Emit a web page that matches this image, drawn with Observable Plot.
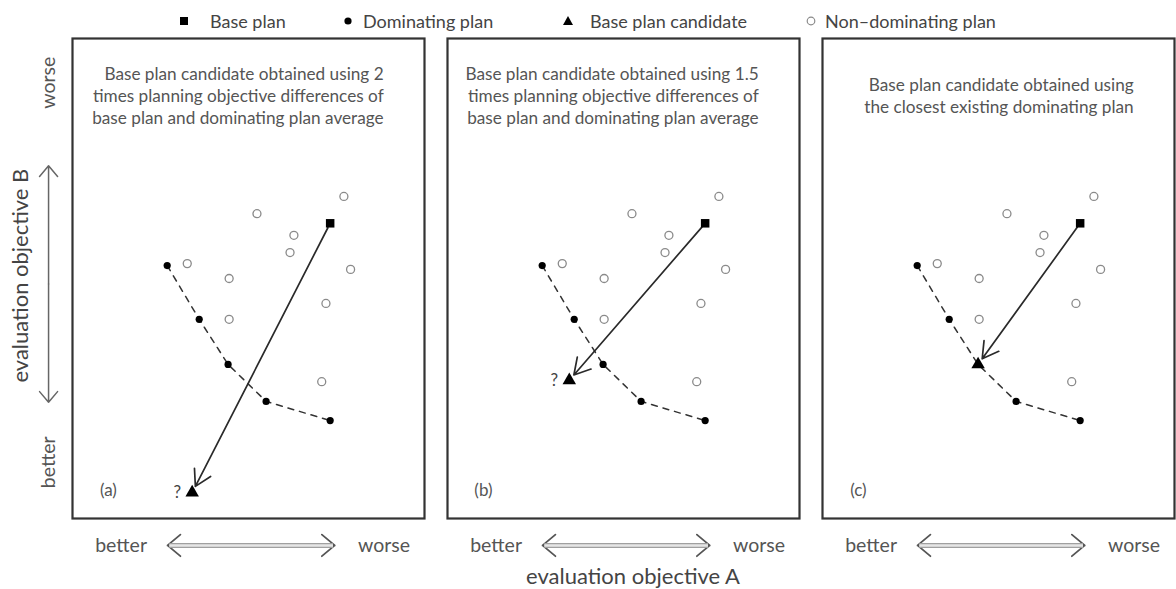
<!DOCTYPE html>
<html><head><meta charset="utf-8">
<script src="https://cdn.jsdelivr.net/npm/d3@7"></script>
<script src="https://cdn.jsdelivr.net/npm/@observablehq/plot@0.6"></script>
<style>
body{margin:0;background:#fff;font-family:Lato,"Open Sans",sans-serif;}
#legend{position:relative;height:30px;width:1176px;color:#444;font-size:18px;}
#legend .sym{position:absolute;top:11px;width:20px;height:20px;margin-left:-10px;}
#legend .lab{position:absolute;top:10px;line-height:22px;white-space:nowrap;}
</style></head><body>
<div id="legend"></div>
<div id="chart"></div>
<script>
// ---- data ----
const panels = ["a", "b", "c"];
const panelLabels = ["(a)", "(b)", "(c)"];
const panelNotes = [
  "Base plan candidate obtained using 2\ntimes planning objective differences of\nbase plan and dominating plan average",
  "Base plan candidate obtained using 1.5\ntimes planning objective differences of\nbase plan and dominating plan average",
  "Base plan candidate obtained using\nthe closest existing dominating plan"
];
const baseX = 7.32, baseY = 6.15;
const dominatingX = [2.69, 3.60, 4.42, 5.50, 7.32];
const dominatingY = [5.27, 4.15, 3.21, 2.44, 2.04];
const nonDominatingX = [7.71, 5.24, 6.29, 6.18, 3.26, 7.90, 4.45, 7.20, 4.45, 7.08];
const nonDominatingY = [6.71, 6.35, 5.90, 5.54, 5.31, 5.19, 5.00, 4.48, 4.15, 2.85];
const candidateX = [3.40, 3.46, 4.42];
const candidateY = [0.54, 2.88, 3.21];
const candidateMark = ["?", "?", ""];
const legendNames = ["Base plan", "Dominating plan", "Base plan candidate", "Non\u2013dominating plan"];
const axisTextA = "evaluation objective A";
const axisTextB = "evaluation objective B";
const betterText = "better", worseText = "worse";

// ---- tables ----
const dom = panels.flatMap(p => dominatingX.map((x, i) => ({panel: p, x, y: dominatingY[i], i})));
const domDots = dom.filter((d) => !(d.panel === "c" && d.i === 2));
const nondom = panels.flatMap(p => nonDominatingX.map((x, i) => ({panel: p, x, y: nonDominatingY[i]})));
const bases = panels.map(p => ({panel: p, x: baseX, y: baseY}));
const cands = panels.map((p, i) => ({panel: p, x: candidateX[i], y: candidateY[i], q: candidateMark[i]}));
const arrows = cands.map(c => ({panel: c.panel, x1: baseX, y1: baseY, x2: c.x, y2: c.y}));
const notes = panels.map((p, i) => ({panel: p, text: panelNotes[i]}));
const labs = panels.map((p, i) => ({panel: p, text: panelLabels[i]}));

// bottom axis annotation (per panel) in data units
const bottomY = -0.56;
const bArrowL = 2.70, bArrowR = 7.45, bMid = (bArrowL + bArrowR) / 2;
const bottomShaft = panels.map(p => ({panel: p, x1: bArrowL + 0.05, x2: bArrowR - 0.05}));
const bottomHeads = panels.flatMap(p => [
  {panel: p, x1: bMid, x2: bArrowL},
  {panel: p, x1: bMid, x2: bArrowR}
]);
const bottomText = panels.flatMap(p => [
  {panel: p, x: 1.38, text: betterText},
  {panel: p, x: 8.85, text: worseText}
]);

// left axis annotation (only in panel a)
const leftX = -0.68, leftLo = 2.42, leftHi = 7.35;

const chart = Plot.plot({
  width: 1176,
  height: 559,
  marginLeft: 72,
  marginRight: 1,
  marginTop: 8,
  marginBottom: 71,
  style: {fontFamily: "Lato, 'Open Sans', sans-serif", background: "white", overflow: "visible"},
  fx: {domain: panels, axis: null, paddingInner: 23 / 376, paddingOuter: 0},
  x: {domain: [0, 10], axis: null},
  y: {domain: [0, 10], axis: null},
  marks: [
    Plot.frame({stroke: "#333", strokeWidth: 2.2}),
    Plot.line(dom, {x: "x", y: "y", fx: "panel", z: "panel", stroke: "#333", strokeWidth: 1.5, strokeDasharray: "6,6"}),
    Plot.dot(nondom, {x: "x", y: "y", fx: "panel", r: 4, stroke: "#8a8a8a", fill: "white", strokeWidth: 1.3}),
    Plot.dot(domDots, {x: "x", y: "y", fx: "panel", r: 3.6, fill: "black"}),
    Plot.arrow(arrows, {x1: "x1", y1: "y1", x2: "x2", y2: "y2", fx: "panel", stroke: "#2a2a2a", strokeWidth: 1.7, headLength: 16, headAngle: 60, insetStart: 5, insetEnd: 7}),
    Plot.dot(bases, {x: "x", y: "y", fx: "panel", symbol: "square", r: 4.8, fill: "black"}),
    Plot.dot(cands, {x: "x", y: "y", fx: "panel", symbol: "triangle", r: 5, fill: "black"}),
    Plot.text(cands, {x: "x", y: "y", fx: "panel", text: "q", dx: -15, fontSize: 17, fill: "#444"}),
    Plot.text(notes, {x: 8.84, y: 8.82, fx: "panel", text: "text", textAnchor: "end", lineAnchor: "middle", lineHeight: 1.28, fontSize: 17.2, fill: "#555"}),
    Plot.text(labs, {x: 1.02, y: 0.58, fx: "panel", text: "text", fontSize: 17, fill: "#555"}),
    // bottom better <-> worse
    Plot.arrow(bottomHeads, {x1: "x1", x2: "x2", y1: bottomY, y2: bottomY, fx: "panel", stroke: "#555", strokeWidth: 1.8, headLength: 14, headAngle: 80}),
    Plot.link(bottomShaft, {x1: "x1", x2: "x2", y1: bottomY, y2: bottomY, fx: "panel", stroke: "#a0a0a0", strokeWidth: 5}),
    Plot.link(bottomShaft, {x1: "x1", x2: "x2", y1: bottomY, y2: bottomY, fx: "panel", stroke: "#e6e6e6", strokeWidth: 2.5}),
    Plot.text(bottomText, {x: "x", y: bottomY, fx: "panel", text: "text", fontSize: 19.5, fill: "#555"}),
    // overall x-axis title
    Plot.text([axisTextA], {x: 5.27, y: -1.21, fx: () => "b", text: d => d, fontSize: 22, fill: "#444"}),
    // left vertical axis annotation
    Plot.arrow([{x1: leftX, y1: (leftLo + leftHi) / 2, x2: leftX, y2: leftHi}, {x1: leftX, y1: (leftLo + leftHi) / 2, x2: leftX, y2: leftLo}],
      {x1: "x1", y1: "y1", x2: "x2", y2: "y2", fx: () => "a", stroke: "#666", strokeWidth: 1.5, headLength: 14, headAngle: 80}),
    Plot.text([worseText], {x: leftX, y: 9.08, fx: () => "a", text: d => d, rotate: -90, fontSize: 19.5, fill: "#555"}),
    Plot.text([betterText], {x: leftX, y: 1.17, fx: () => "a", text: d => d, rotate: -90, fontSize: 19.5, fill: "#555"}),
    Plot.text([axisTextB], {x: -1.47, y: 5.06, fx: () => "a", text: d => d, rotate: -90, fontSize: 22, fill: "#444"})
  ]
});
document.getElementById("chart").appendChild(chart);

// ---- legend (HTML above the svg) ----
const legendSymX = [184, 348, 568, 811];
const legendTextX = [210, 363, 590, 825];
const symbols = [
  '<rect x="6" y="6" width="8" height="8" fill="black"/>',
  '<circle cx="10" cy="10" r="3.6" fill="black"/>',
  '<path d="M10,5 L15,14 L5,14 Z" fill="black"/>',
  '<circle cx="10" cy="10" r="3.8" fill="white" stroke="#8a8a8a" stroke-width="1.2"/>'
];
const leg = document.getElementById("legend");
legendNames.forEach((name, i) => {
  const s = document.createElement("div");
  s.className = "sym";
  s.style.left = legendSymX[i] + "px";
  s.innerHTML = '<svg width="20" height="20">' + symbols[i] + '</svg>';
  leg.appendChild(s);
  const t = document.createElement("div");
  t.className = "lab";
  t.style.left = legendTextX[i] + "px";
  t.textContent = name;
  leg.appendChild(t);
});
</script>
</body></html>
